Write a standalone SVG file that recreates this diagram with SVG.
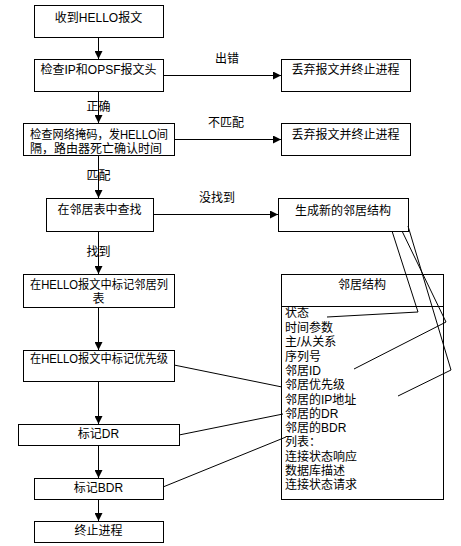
<svg xmlns="http://www.w3.org/2000/svg" width="461" height="546" viewBox="0 0 461 546">
<style>
rect{fill:none;stroke:#000;stroke-width:1}
.c line,.c polyline{stroke:#000;stroke-width:1;fill:none}
text{font-family:"Liberation Sans","Noto Sans CJK SC","Noto Sans CJK TC",sans-serif;font-size:12px;fill:#000;dominant-baseline:central}
.m{text-anchor:middle}
</style>
<defs>
<marker id="ah" markerUnits="userSpaceOnUse" markerWidth="8" markerHeight="8" refX="8" refY="4" orient="auto">
<path d="M0,0 L8,4 L0,8 Z" fill="#000"/>
</marker>
</defs>
<rect x="0" y="0" width="461" height="546" style="fill:#fff;stroke:none"/>
<g class="c" id="connectors">
<line x1="98.5" y1="37" x2="98.5" y2="59" marker-end="url(#ah)"/>
<line x1="98.5" y1="91" x2="98.5" y2="123" marker-end="url(#ah)"/>
<line x1="98.5" y1="155" x2="98.5" y2="198" marker-end="url(#ah)"/>
<line x1="98.5" y1="231" x2="98.5" y2="274" marker-end="url(#ah)"/>
<line x1="98.5" y1="307" x2="98.5" y2="350" marker-end="url(#ah)"/>
<line x1="98.5" y1="381" x2="98.5" y2="424" marker-end="url(#ah)"/>
<line x1="98.5" y1="445" x2="98.5" y2="478" marker-end="url(#ah)"/>
<line x1="98.5" y1="499" x2="98.5" y2="521" marker-end="url(#ah)"/>
<line x1="163" y1="75.5" x2="281" y2="75.5" marker-end="url(#ah)"/>
<line x1="174" y1="139.5" x2="281" y2="139.5" marker-end="url(#ah)"/>
<line x1="153" y1="214.5" x2="278" y2="214.5" marker-end="url(#ah)"/>
<polyline points="392,231 418,312 327,317"/>
<polyline points="402,231 446,322 354,369"/>
<polyline points="408,226 451,370 398,396"/>
<line x1="174" y1="365" x2="282" y2="387"/>
<line x1="179" y1="435" x2="283" y2="414"/>
<line x1="163" y1="487" x2="286" y2="437"/>
<text class="m" x="227" y="59">出错</text>
<text class="m" x="226" y="123">不匹配</text>
<text class="m" x="217" y="198">没找到</text>
<text class="m" x="98.5" y="107">正确</text>
<text class="m" x="98.5" y="176">匹配</text>
<text class="m" x="98.5" y="252">找到</text>
</g>
<g id="n1"><rect x="34.5" y="5.5" width="129" height="32"/><text class="m" x="98.5" y="18">收到HELLO报文</text></g>
<g id="n2"><rect x="34.5" y="59.5" width="129" height="32"/><text class="m" x="98.5" y="70">检查IP和OPSF报文头</text></g>
<g id="n3"><rect x="23.5" y="123.5" width="151" height="32"/><text x="30" y="134.5" textLength="138" lengthAdjust="spacingAndGlyphs">检查网络掩码，发HELLO间</text><text x="30" y="148.5">隔，路由器死亡确认时间</text></g>
<g id="n4"><rect x="46.5" y="198.5" width="107" height="33"/><text class="m" x="99.5" y="210">在邻居表中查找</text></g>
<g id="n5"><rect x="23.5" y="274.5" width="151" height="33"/><text x="30" y="284.5" textLength="138" lengthAdjust="spacingAndGlyphs">在HELLO报文中标记邻居列</text><text class="m" x="98.5" y="298.5">表</text></g>
<g id="n6"><rect x="23.5" y="350.5" width="151" height="31"/><text x="30" y="359" textLength="138" lengthAdjust="spacingAndGlyphs">在HELLO报文中标记优先级</text></g>
<g id="n7"><rect x="18.5" y="424.5" width="161" height="21"/><text class="m" x="98.5" y="434">标记DR</text></g>
<g id="n8"><rect x="34.5" y="478.5" width="129" height="21"/><text class="m" x="98.5" y="488">标记BDR</text></g>
<g id="n9"><rect x="34.5" y="521.5" width="129" height="21"/><text class="m" x="98.5" y="531">终止进程</text></g>
<g id="e1"><rect x="281.5" y="59.5" width="129" height="32"/><text class="m" x="345.5" y="70">丢弃报文并终止进程</text></g>
<g id="e2"><rect x="281.5" y="123.5" width="129" height="32"/><text class="m" x="345.5" y="135">丢弃报文并终止进程</text></g>
<g id="n10"><rect x="278.5" y="198.5" width="130" height="33"/><text class="m" x="343" y="211">生成新的邻居结构</text></g>
<g id="nbr">
<rect x="281.5" y="274.5" width="162" height="225"/>
<line x1="281.5" y1="306.5" x2="443.5" y2="306.5" stroke="#000"/>
<text class="m" x="362" y="285">邻居结构</text>
<text x="285" y="313">状态</text>
<text x="285" y="327.5">时间参数</text>
<text x="285" y="341.5">主/从关系</text>
<text x="285" y="356.5">序列号</text>
<text x="285" y="370.5">邻居ID</text>
<text x="285" y="385">邻居优先级</text>
<text x="285" y="399.5">邻居的IP地址</text>
<text x="285" y="414">邻居的DR</text>
<text x="285" y="427.5">邻居的BDR</text>
<text x="285" y="442">列表：</text>
<text x="285" y="456.5">连接状态响应</text>
<text x="285" y="470.5">数据库描述</text>
<text x="285" y="485">连接状态请求</text>
</g>
</svg>
